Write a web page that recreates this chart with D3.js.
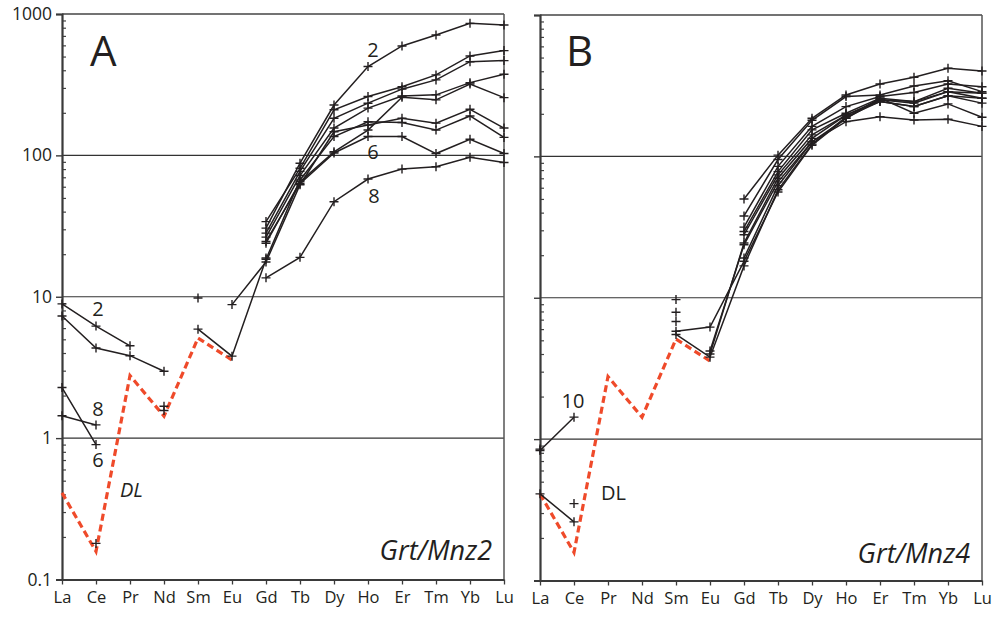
<!DOCTYPE html>
<html>
<head>
<meta charset="utf-8">
<script src="https://cdn.jsdelivr.net/npm/d3@7"></script>
<style>
  body { margin: 0; background: #fff; }
  svg { font-family: "Open Sans", "Noto Sans", sans-serif; }
</style>
</head>
<body>
<div id="chart"></div>
<script>
// REE order on the x axis
const elements = ["La", "Ce", "Pr", "Nd", "Sm", "Eu", "Gd", "Tb", "Dy", "Ho", "Er", "Tm", "Yb", "Lu"];
const yTicks = [0.1, 1, 10, 100, 1000];
const gridValues = [1, 10, 100];

// detection limit (red dashed), La..Eu
const dlValues = [0.41, 0.158, 2.77, 1.43, 5.1, 3.57];

// Grt/Mnz2 analyses (null = below detection, leaves a gap)
const seriesA = [
  [7.3, 4.34, 3.83, 2.97, null, null, 34, 81, 210, 261, 306, 371, 505, 551],
  [8.9, 6.2, 4.5, null, 9.8, null, 30.6, 88, 227, 425, 594, 711, 859, 836],
  [null, null, null, 1.68, null, 8.8, 17.6, 62, 147, 164, 183, 169, 212, 156],
  [null, 0.18, null, null, 5.9, 3.8, 18.4, 67, 136, 173, 171, 151, 190, 134],
  [null, null, null, 1.57, null, null, 28.2, 77, 183, 234, 294, 342, 460, 468],
  [2.28, 0.90, null, null, null, null, 24.6, 63, 104, 136, 136, 103, 130, 103],
  [null, null, null, null, null, null, 26.4, 72, 156, 216, 263, 268, 327, 375],
  [1.44, 1.24, null, null, null, null, 13.6, 19, 47, 68, 80, 83, 97, 89],
  [null, null, null, null, null, null, 23.9, 65, 106, 151, 258, 247, 320, 256],
  [null, null, null, null, null, null, 18.8, null, null, null, null, null, null, null]
];

// Grt/Mnz4 analyses
const seriesB = [
  [null, null, null, null, null, null, 49.9, 102, 186, 272, 325, 363, 420, 402],
  [null, null, null, null, null, null, 37.9, 95, 180, 265, 272, 315, 343, 287],
  [null, null, null, null, 7.9, null, 31.6, 85, 163, 225, 265, 283, 325, 311],
  [null, null, null, null, 6.8, null, 29.4, 78, 154, 202, 258, 244, 303, 280],
  [null, null, null, null, null, null, 27.9, 74, 142, 196, 251, 238, 287, 258],
  [null, null, null, null, null, 4.0, 24.4, 70, 134, 196, 244, 225, 268, 238],
  [null, null, null, null, null, 4.2, 23.7, 66, 127, 186, 258, 202, 235, 189],
  [0.83, 1.43, null, null, 9.7, null, 19.1, 62, 127, 176, 191, 181, 183, 163],
  [0.41, 0.26, null, null, 5.8, 6.2, 18.1, 56, 120, 186, 251, 244, 287, 280],
  [0.85, null, null, null, null, null, null, null, null, null, null, null, null, null],
  [null, 0.35, null, null, 5.5, 3.8, 16.8, 58, 122, 190, 244, 225, 268, 258]
];

// analysis numbers: element column and value at the text baseline
const labelsA = [
  { text: "2", el: "Ce", v: 7.3, dx: 2 },
  { text: "8", el: "Ce", v: 1.44, dx: 2 },
  { text: "6", el: "Ce", v: 0.62, dx: 2 },
  { text: "2", el: "Ho", v: 499, dx: 5 },
  { text: "6", el: "Ho", v: 94, dx: 5 },
  { text: "8", el: "Ho", v: 46, dx: 6 }
];
const labelsB = [
  { text: "10", el: "Ce", v: 1.67, dx: -1 }
];

const W = 997, H = 619;
const svg = d3.select("#chart").append("svg")
  .attr("width", W)
  .attr("height", H);

const panels = [
  { left: 62, right: 504, top: 14, bottom: 579.5, series: seriesA, labels: labelsA,
    letter: "A", name: "Grt/Mnz2", showY: true, dlItalic: true, dlX: 120, dlY: 497, nameY: 560 },
  { left: 540, right: 982, top: 15, bottom: 580.5, series: seriesB, labels: labelsB,
    letter: "B", name: "Grt/Mnz4", showY: false, dlItalic: false, dlX: 601, dlY: 500, nameY: 563 }
];

const ink = "#231f20";
const cross = "M-4.5,0H4.5M0,-4.5V4.5";

panels.forEach(p => {
  const x = d3.scalePoint().domain(elements).range([p.left, p.right]);
  const y = d3.scaleLog().domain([0.1, 1000]).range([p.bottom, p.top]);
  const g = svg.append("g");

  // gridlines
  g.selectAll(".grid")
    .data(gridValues)
    .join("line")
    .attr("x1", p.left).attr("x2", p.right)
    .attr("y1", d => y(d)).attr("y2", d => y(d))
    .attr("stroke", "#333")
    .attr("stroke-width", 1.1);

  // frame top and right
  g.append("line")
    .attr("x1", p.left).attr("x2", p.right)
    .attr("y1", y(1000)).attr("y2", y(1000))
    .attr("stroke", "#444").attr("stroke-width", 1.5);
  g.append("line")
    .attr("x1", p.right).attr("x2", p.right)
    .attr("y1", y(1000)).attr("y2", y(0.1))
    .attr("stroke", "#555").attr("stroke-width", 1.5);

  // minor ticks point inward
  const minor = [];
  [0.1, 1, 10, 100].forEach(b => { for (let k = 2; k <= 9; k++) minor.push(b * k); });
  g.append("g")
    .attr("transform", `translate(${p.left},0)`)
    .call(d3.axisRight(y).tickValues(minor).tickSize(4).tickFormat(""))
    .call(a => a.select(".domain").remove())
    .selectAll("line").attr("stroke", "#444").attr("stroke-width", 1.2);

  // major ticks and labels
  const yAxis = g.append("g")
    .attr("transform", `translate(${p.left},0)`)
    .call(d3.axisLeft(y).tickValues(yTicks).tickSize(6).tickPadding(4)
      .tickFormat(p.showY ? d => d3.format("~g")(d) : ""));
  yAxis.select(".domain").attr("stroke", "#3a3a3a").attr("stroke-width", 2.2);
  yAxis.selectAll("line").attr("stroke", "#3a3a3a").attr("stroke-width", 1.4);
  yAxis.selectAll("text")
    .attr("font-family", "'Open Sans', sans-serif")
    .attr("font-size", 17.5)
    .attr("fill", ink);

  // bottom axis
  const xAxis = g.append("g")
    .attr("transform", `translate(0,${p.bottom})`)
    .call(d3.axisBottom(x).tickSize(5).tickSizeOuter(0).tickPadding(7));
  xAxis.select(".domain").attr("stroke", "#3a3a3a").attr("stroke-width", 2);
  xAxis.selectAll("line").attr("stroke", "#3a3a3a").attr("stroke-width", 1.3);
  xAxis.selectAll("text")
    .attr("font-family", "'Open Sans', sans-serif")
    .attr("font-size", 16.5)
    .attr("fill", ink);

  // detection limit
  const line = d3.line()
    .defined(d => d[1] != null)
    .x(d => x(d[0]))
    .y(d => y(d[1]));

  g.append("path")
    .datum(dlValues.map((v, i) => [elements[i], v]))
    .attr("d", line)
    .attr("fill", "none")
    .attr("stroke", "#ef4a2a")
    .attr("stroke-width", 3.2)
    .attr("stroke-dasharray", "7,4");

  // analyses
  p.series.forEach(s => {
    const pts = s.map((v, i) => [elements[i], v]);
    g.append("path")
      .datum(pts)
      .attr("d", line)
      .attr("fill", "none")
      .attr("stroke", ink)
      .attr("stroke-width", 1.5);
    g.selectAll(null)
      .data(pts.filter(d => d[1] != null))
      .join("path")
      .attr("d", cross)
      .attr("transform", d => `translate(${x(d[0])},${y(d[1])})`)
      .attr("stroke", ink)
      .attr("stroke-width", 1.4)
      .attr("fill", "none");
  });

  // analysis numbers
  g.selectAll(".num")
    .data(p.labels)
    .join("text")
    .attr("x", d => x(d.el) + d.dx)
    .attr("y", d => y(d.v))
    .attr("text-anchor", "middle")
    .attr("font-size", 20)
    .attr("fill", ink)
    .text(d => d.text);

  g.append("text")
    .attr("x", p.dlX)
    .attr("y", p.dlY)
    .attr("font-size", 20)
    .attr("font-style", p.dlItalic ? "italic" : "normal")
    .attr("fill", ink)
    .text("DL");

  g.append("text")
    .attr("x", p.left + (p.letter === "A" ? 28 : 26))
    .attr("y", 66)
    .attr("font-size", 42)
    .attr("fill", ink)
    .text(p.letter);

  g.append("text")
    .attr("x", p.right - 12)
    .attr("y", p.nameY)
    .attr("text-anchor", "end")
    .attr("font-size", 27)
    .attr("font-style", "italic")
    .attr("fill", ink)
    .text(p.name);
});
</script>
</body>
</html>
